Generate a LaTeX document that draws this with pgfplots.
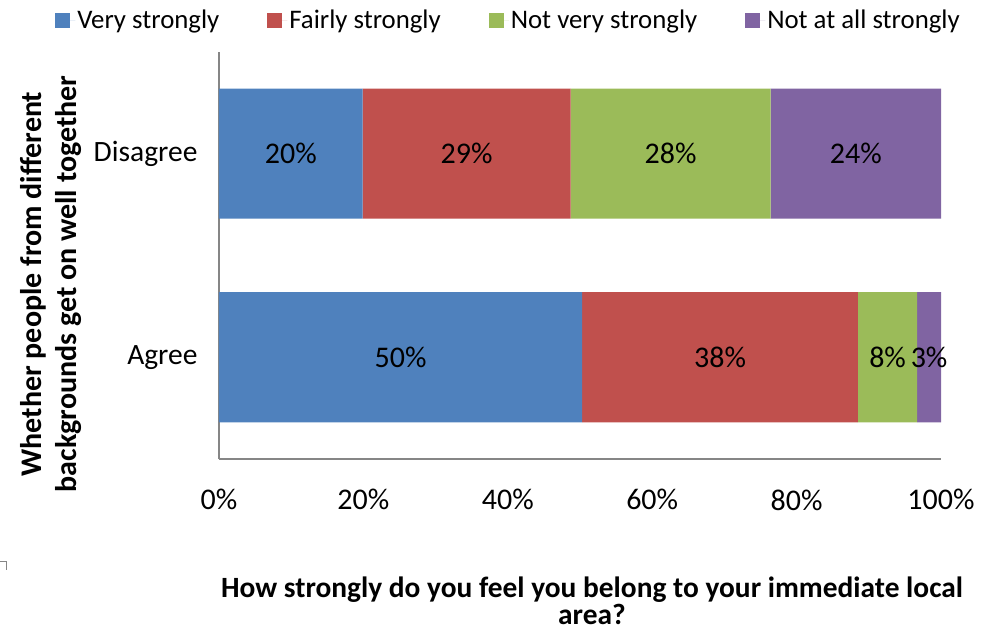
\documentclass[border=0pt]{standalone}
\usepackage{fontspec}
\setmainfont{Carlito}
\usepackage{pgfplots}
\usepackage{pgfplotstable}
\pgfplotsset{compat=1.18}

\definecolor{vstrong}{HTML}{4F81BD}
\definecolor{fstrong}{HTML}{C0504D}
\definecolor{nvstrong}{HTML}{9BBB59}
\definecolor{nastrong}{HTML}{8064A2}
\definecolor{axisgray}{HTML}{868686}

% Share of respondents (%) by sense of belonging, for each answer group
\pgfplotstableread{
pos group    very fairly notvery notatall
0   Agree    50.3 38.2  8.2    3.3
1   Disagree 19.9 28.8  27.7   23.6
}\belongdata

\pgfplotsset{
  frame/.style={
    at={(0pt,0pt)}, anchor=south west,
    scale only axis, width=722pt, height=407pt,
    xmin=0, xmax=100, ymin=-0.5, ymax=1.5,
    enlargelimits=false, clip=false,
    /pgf/number format/assume math mode=true,
  },
  share label/.style={
    draw=none, mark=none, point meta=explicit,
    nodes near coords={\pgfmathprintnumber[fixed,precision=0]{\pgfplotspointmeta}\%},
    every node near coord/.append style={anchor=center, text=black,
      font=\fontsize{30}{36}\selectfont},
  },
}

\begin{document}
\begin{tikzpicture}
\path[use as bounding box] (-219pt,-175pt) rectangle (763pt,459pt);
% stacked bars
\begin{axis}[
  frame,
  xbar stacked, bar width=130pt,
  xtick={0,20,...,100},
  xticklabel={\pgfmathprintnumber{\tick}\%},
  ytick={0,1}, yticklabels={Agree,Disagree},
  major tick length=0pt,
  axis lines*=left,
  axis line style={-, draw=axisgray, line width=2pt},
  xticklabel style={font=\fontsize{30}{36}\selectfont, yshift=-27pt},
  yticklabel style={font=\fontsize{29.5}{35}\selectfont, xshift=-18pt},
  xlabel={How strongly do you feel you belong to your immediate local\\area?},
  xlabel style={align=center, font=\bfseries\fontsize{29.4}{27}\selectfont,
    at={(axis description cs:0.5166,0)}, anchor=north, yshift=-114pt},
  ylabel={Whether people from different\\backgrounds get on well together},
  ylabel style={align=center, font=\bfseries\fontsize{30}{35}\selectfont,
    at={(axis description cs:-0.232,0.43)}, anchor=center},
  legend columns=4,
  legend style={at={(axis description cs:0.4010,1.0786)}, anchor=center,
    draw=none, fill=none, font=\fontsize{26.8}{30}\selectfont,
    /tikz/every even column/.append style={column sep=46pt}},
  legend image code/.code={\fill[#1] (0pt,-7.5pt) rectangle (15pt,7.5pt);
    \path (0pt,0pt) -- (20pt,0pt);},
]
\addplot[fill=vstrong, draw=none] table[x=very, y=pos] {\belongdata};
\addlegendentry{Very strongly}
\addplot[fill=fstrong, draw=none] table[x=fairly, y=pos] {\belongdata};
\addlegendentry{Fairly strongly}
\addplot[fill=nvstrong, draw=none] table[x=notvery, y=pos] {\belongdata};
\addlegendentry{Not very strongly}
\addplot[fill=nastrong, draw=none] table[x=notatall, y=pos] {\belongdata};
\addlegendentry{Not at all strongly}
\end{axis}
% value labels at the middle of each segment
\begin{axis}[frame, hide axis]
\addplot[share label] table[x expr=\thisrow{very}/2, y=pos, meta=very] {\belongdata};
\addplot[share label] table[x expr=\thisrow{very}+\thisrow{fairly}/2, y=pos, meta=fairly] {\belongdata};
\addplot[share label] table[x expr=\thisrow{very}+\thisrow{fairly}+\thisrow{notvery}/2, y=pos, meta=notvery] {\belongdata};
\addplot[share label] table[x expr=\thisrow{very}+\thisrow{fairly}+\thisrow{notvery}+\thisrow{notatall}/2, y=pos, meta=notatall] {\belongdata};
\end{axis}
\draw[axisgray, line width=1pt] (-219pt,-102pt) -- (-212pt,-102pt) -- (-212pt,-111pt);
\end{tikzpicture}
\end{document}
